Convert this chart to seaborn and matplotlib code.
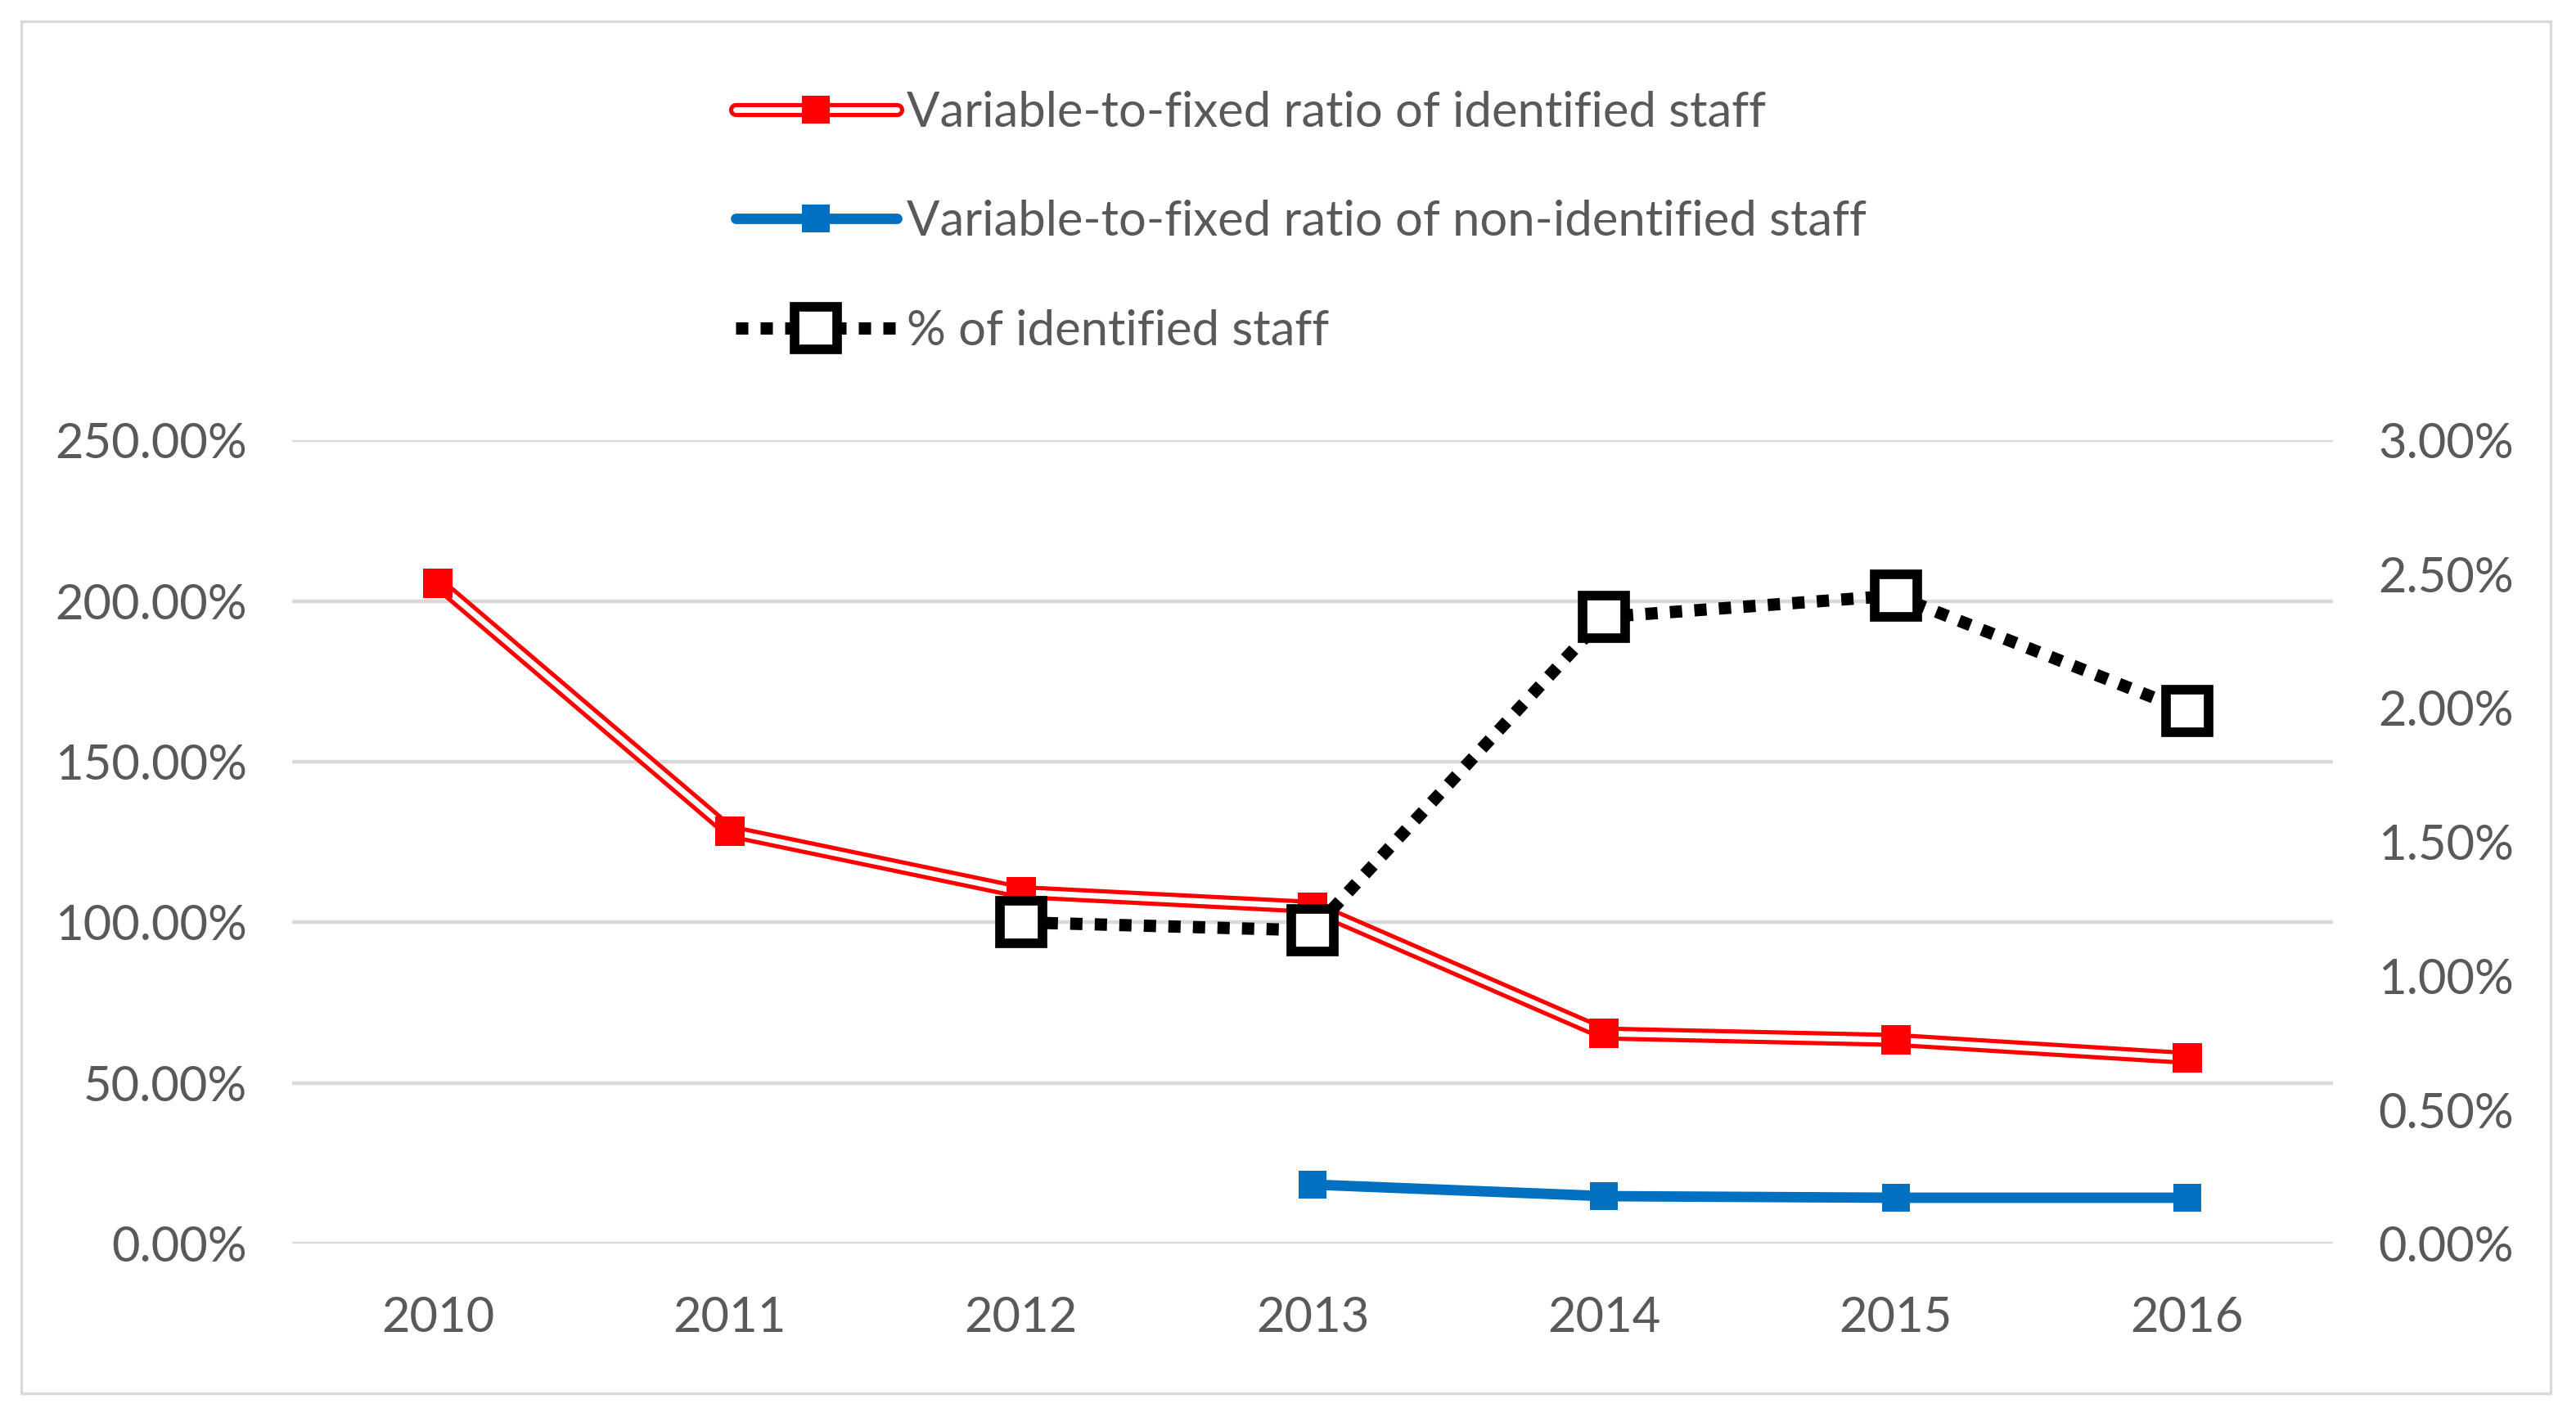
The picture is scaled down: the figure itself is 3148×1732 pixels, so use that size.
import matplotlib
matplotlib.use('Agg')
import matplotlib.pyplot as plt
import seaborn as sns
import pandas as pd
from matplotlib.lines import Line2D
from matplotlib.legend_handler import HandlerTuple
from matplotlib.patches import Rectangle
from matplotlib.ticker import FuncFormatter

years = [2010, 2011, 2012, 2013, 2014, 2015, 2016]
ratio_identified = [205.5, 128.3, 109.4, 104.8, 65.4, 63.4, 57.8]
ratio_non_identified = [None, None, None, 18.4, 14.8, 14.3, 14.3]
pct_identified = [None, None, 1.20, 1.17, 2.34, 2.42, 1.99]

lbl_red = 'Variable-to-fixed ratio of identified staff'
lbl_blue = 'Variable-to-fixed ratio of non-identified staff'
lbl_black = '% of identified staff'

df = pd.DataFrame({'year': years, 'red': ratio_identified,
                   'blue': ratio_non_identified, 'black': pct_identified})

sns.set_theme(style='white')
plt.rcParams['font.family'] = ['Lato', 'DejaVu Sans']
txt = '#595959'
red = '#FF0000'
blue = '#0070C0'

fig = plt.figure(figsize=(15.74, 8.66), dpi=200)
ax = fig.add_axes([0.1135, 0.1223, 0.9056 - 0.1135, 0.6893 - 0.1223])
ax2 = ax.twinx()

# red double line
sns.lineplot(data=df, x='year', y='red', ax=ax, color=red, lw=6.2, zorder=3)
ax.plot(df.year, df.red, color='white', lw=2.5, zorder=4)
sns.scatterplot(data=df, x='year', y='red', ax=ax, color=red, marker='s', s=160,
                linewidth=0, zorder=5)

# blue
d_blue = df.dropna(subset=['blue'])
sns.lineplot(data=d_blue, x='year', y='blue', ax=ax, color=blue, lw=4.6, zorder=3,
             marker='s', markersize=12, markeredgewidth=0)

# black dotted on secondary axis
d_black = df.dropna(subset=['black'])
sns.lineplot(data=d_black, x='year', y='black', ax=ax2, color='black', lw=5.4,
             linestyle=(0, (1, 1)), marker='s', markersize=19, markerfacecolor='white',
             markeredgecolor='black', markeredgewidth=4.2, zorder=6)
ax2.lines[-1].set_dash_capstyle('butt')

ax.set_ylim(0, 250)
ax.set_yticks([0, 50, 100, 150, 200, 250])
ax2.set_ylim(0, 3)
ax2.set_yticks([0, 0.5, 1, 1.5, 2, 2.5, 3])
ax.set_xlim(2009.5, 2016.5)
ax.set_xticks(years)
ax.set_xticklabels([str(y) for y in years])
ax.yaxis.set_major_formatter(FuncFormatter(lambda v, p: f'{v:.2f}%'))
ax2.yaxis.set_major_formatter(FuncFormatter(lambda v, p: f'{v:.2f}%'))

for a in (ax, ax2):
    a.set_xlabel('')
    a.set_ylabel('')
    for s in a.spines.values():
        s.set_visible(False)
    a.tick_params(length=0, labelsize=21.5, colors=txt)
ax.tick_params(axis='y', pad=20)
ax.tick_params(axis='x', pad=23)
ax2.tick_params(axis='y', pad=20)
ax.grid(axis='y', color='#D9D9D9', lw=1.6)
ax.grid(axis='x', visible=False)
ax2.grid(False)
if ax.get_legend():
    ax.get_legend().remove()
if ax2.get_legend():
    ax2.get_legend().remove()

h_red = (Line2D([], [], color=red, lw=6.2),
         Line2D([], [], color='white', lw=2.5),
         Line2D([], [], color=red, marker='s', markersize=12, markeredgewidth=0, lw=0))
h_blue = Line2D([], [], color=blue, lw=4.6, marker='s', markersize=12, markeredgewidth=0)
h_black = Line2D([], [], color='black', lw=5.4, linestyle=(0, (1, 1)), dash_capstyle='butt',
                 marker='s', markersize=19, markerfacecolor='white',
                 markeredgecolor='black', markeredgewidth=4.2)
leg = fig.legend([h_red, h_blue, h_black], [lbl_red, lbl_blue, lbl_black],
                 handler_map={tuple: HandlerTuple(ndivide=1, pad=0)},
                 loc='upper left', bbox_to_anchor=(0.2855, 0.936), frameon=False,
                 fontsize=21.5, handlelength=3.3, handletextpad=0.2, labelspacing=1.33,
                 borderpad=0, borderaxespad=0)
for t in leg.get_texts():
    t.set_color(txt)

fig.add_artist(Rectangle((0.0083, 0.0168), 0.990 - 0.0083, 0.985 - 0.0168,
                         transform=fig.transFigure, fill=False, edgecolor='#D9D9D9', lw=1.2))

fig.savefig('out.png', dpi=200, facecolor='white')
